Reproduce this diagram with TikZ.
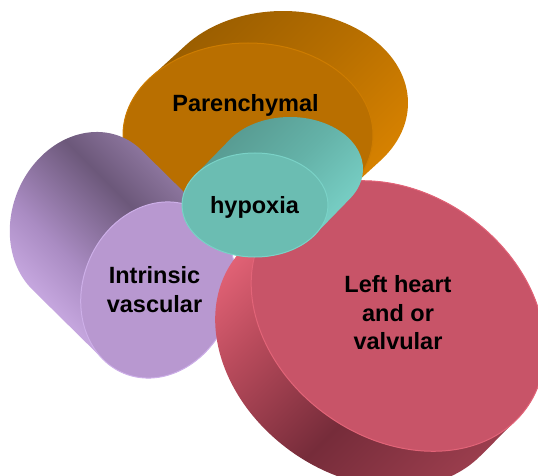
\documentclass[tikz,border=0pt]{standalone}
\usepackage{fontspec}
\setmainfont{Liberation Sans}
\definecolor{orgA}{RGB}{222,134,0}
\definecolor{orgB}{RGB}{182,110,0}
\definecolor{orgC}{RGB}{148,90,0}
\definecolor{orgfront}{RGB}{185,111,0}
\definecolor{orgrim}{RGB}{205,124,0}
\definecolor{tealA}{RGB}{126,216,206}
\definecolor{tealB}{RGB}{100,178,168}
\definecolor{tealC}{RGB}{84,148,139}
\definecolor{tealfront}{RGB}{107,189,178}
\definecolor{tealrim}{RGB}{122,210,199}
\definecolor{purA}{RGB}{220,188,245}
\definecolor{purB}{RGB}{170,140,195}
\definecolor{purC}{RGB}{108,88,122}
\definecolor{purD}{RGB}{165,140,185}
\definecolor{purfront}{RGB}{184,152,208}
\definecolor{purrim}{RGB}{205,175,232}
\definecolor{redA}{RGB}{160,64,80}
\definecolor{redB}{RGB}{118,44,58}
\definecolor{redC}{RGB}{185,75,92}
\definecolor{redD}{RGB}{236,104,124}
\definecolor{redfront}{RGB}{200,84,104}
\definecolor{redrim}{RGB}{226,100,120}
\pgfdeclareverticalshading{orangeside}{100bp}{color(0bp)=(orgA); color(25bp)=(orgA); color(50bp)=(orgB); color(75bp)=(orgC); color(100bp)=(orgC)}
\pgfdeclareverticalshading{tealside}{100bp}{color(0bp)=(tealA); color(25bp)=(tealA); color(50bp)=(tealB); color(75bp)=(tealC); color(100bp)=(tealC)}
\pgfdeclareverticalshading{purpleside}{100bp}{color(0bp)=(purA); color(25bp)=(purA); color(42bp)=(purB); color(58bp)=(purC); color(75bp)=(purD); color(100bp)=(purD)}
\pgfdeclareverticalshading{redside}{100bp}{color(0bp)=(redA); color(25bp)=(redA); color(45bp)=(redB); color(62bp)=(redC); color(75bp)=(redD); color(100bp)=(redD)}
\tikzset{
  label/.style={font=\bfseries\fontsize{23.5}{28.5}\selectfont, text=black, inner sep=0pt, align=center},
  rim/.style={line width=1pt}
}
\begin{document}
\begin{tikzpicture}[x=1pt,y=-1pt]
\useasboundingbox (0,0) rectangle (538,476);
\clip (0,0) rectangle (538,476);
% Parenchymal (orange)
\begin{scope}[shift={(248,135)}]
  \shade[shading=orangeside, shading angle=45] (218.8:125 and 92) -- ++(35,-32)
    arc[start angle=218.8, end angle=398.8, x radius=125, y radius=92] -- ++(-35,32)
    arc[start angle=398.8, end angle=578.8, x radius=125, y radius=92] -- cycle;
  \filldraw[fill=orgfront, draw=orgrim, rim] (0,0) ellipse [x radius=125, y radius=92];
\end{scope}
% Intrinsic vascular (purple)
\begin{scope}[shift={(158,290)}, rotate=-22]
  \shade[shading=purpleside, shading angle=-45] (109.1:75 and 90) -- ++(-92,-38.3)
    arc[start angle=109.1, end angle=289.1, x radius=75, y radius=90] -- ++(92,38.3)
    arc[start angle=289.1, end angle=469.1, x radius=75, y radius=90] -- cycle;
  \filldraw[fill=purfront, draw=purrim, rim] (0,0) ellipse [x radius=75, y radius=90];
\end{scope}
% Left heart (red)
\begin{scope}[shift={(398,316)}, rotate=-35.6]
  \shade[shading=redside, shading angle=45] (7.3:158 and 122) -- ++(-8.3,50.3)
    arc[start angle=7.3, end angle=187.3, x radius=158, y radius=122] -- ++(8.3,-50.3)
    arc[start angle=187.3, end angle=367.3, x radius=158, y radius=122] -- cycle;
  \filldraw[fill=redfront, draw=redrim, rim] (0,0) ellipse [x radius=158, y radius=122];
\end{scope}
% hypoxia (teal)
\begin{scope}[shift={(255,205)}]
  \shade[shading=tealside, shading angle=45] (214.7:73 and 52) -- ++(35,-36)
    arc[start angle=214.7, end angle=394.7, x radius=73, y radius=52] -- ++(-35,36)
    arc[start angle=394.7, end angle=574.7, x radius=73, y radius=52] -- cycle;
  \filldraw[fill=tealfront, draw=tealrim, rim] (0,0) ellipse [x radius=73, y radius=52];
\end{scope}
\node[label, anchor=base] (par) at (245.5,112) {Parenchymal};
\node[label, anchor=base] (hyp) at (254.5,213) {hypoxia};
\node[label] (intr) at (154.5,289.5) {Intrinsic\\vascular};
\node[label] (left) at (398,313) {Left heart\\and or\\valvular};
\end{tikzpicture}
\end{document}
